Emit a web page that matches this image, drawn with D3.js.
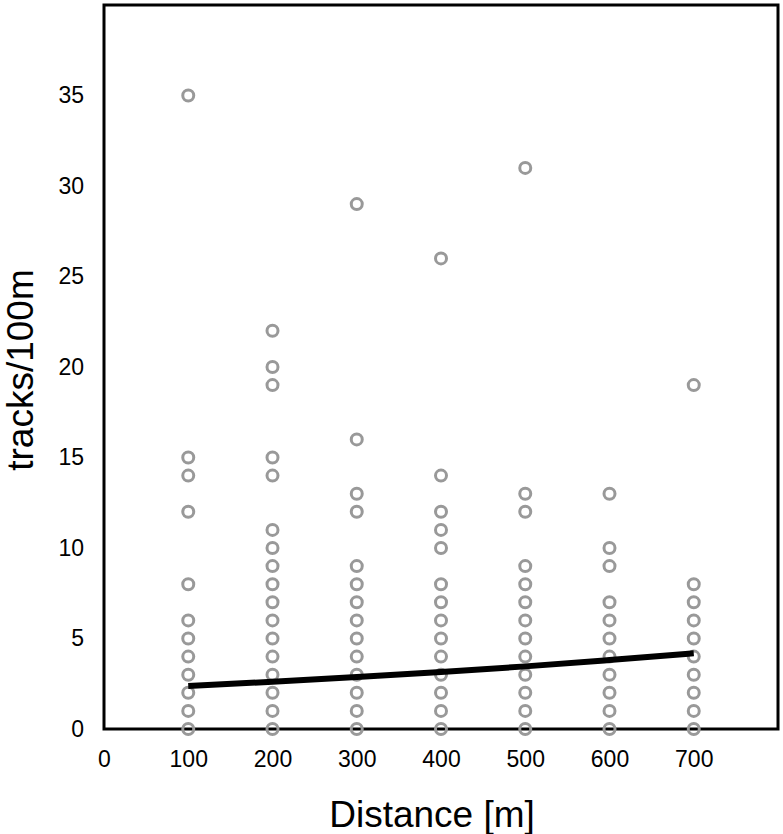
<!DOCTYPE html>
<html>
<head>
<meta charset="utf-8">
<script src="https://cdn.jsdelivr.net/npm/d3@7"></script>
<style>
  html, body { margin: 0; padding: 0; background: #fff; }
  svg { display: block; font-family: "Liberation Sans", Arial, sans-serif; }
</style>
</head>
<body>
<script>
// ---- data ----
const distances = [100, 200, 300, 400, 500, 600, 700];
const tracks100 = [0, 1, 2, 3, 4, 5, 6, 8, 12, 14, 15, 35];
const tracks200 = [0, 1, 2, 3, 4, 5, 6, 7, 8, 9, 10, 11, 14, 15, 19, 20, 22];
const tracks300 = [0, 1, 2, 3, 4, 5, 6, 7, 8, 9, 12, 13, 16, 29];
const tracks400 = [0, 1, 2, 3, 4, 5, 6, 7, 8, 10, 11, 12, 14, 26];
const tracks500 = [0, 1, 2, 3, 4, 5, 6, 7, 8, 9, 12, 13, 31];
const tracks600 = [0, 1, 2, 3, 4, 5, 6, 7, 9, 10, 13];
const tracks700 = [0, 1, 2, 3, 4, 5, 6, 7, 8, 19];
const fitValues = [2.38, 2.61, 2.87, 3.15, 3.46, 3.81, 4.18];
const xTicks = [0, 100, 200, 300, 400, 500, 600, 700];
const yTicks = [0, 5, 10, 15, 20, 25, 30, 35];

const columns = [tracks100, tracks200, tracks300, tracks400, tracks500, tracks600, tracks700];
const points = [];
columns.forEach((vals, i) => vals.forEach(v => points.push({x: distances[i], y: v})));
const fit = distances.map((d, i) => ({x: d, y: fitValues[i]}));

// ---- layout ----
const W = 783, H = 834;
const L = 104, T = 5, R = 778, B = 729;

const x = d3.scaleLinear().domain([0, 800]).range([L, R]);
const y = d3.scaleLinear().domain([0, 40]).range([B, T]);

const svg = d3.select("body").append("svg").attr("width", W).attr("height", H);

// axes (labels only, no tick marks)
const xAxis = svg.append("g").attr("transform", `translate(0,${B})`)
  .call(d3.axisBottom(x).tickValues(xTicks).tickSize(0).tickPadding(22).tickFormat(d3.format("d")));
xAxis.select(".domain").remove();
xAxis.selectAll("text").attr("font-size", 23).attr("fill", "#000")
  .attr("font-family", "'Liberation Sans', Arial, sans-serif");

const yAxis = svg.append("g").attr("transform", `translate(${L},0)`)
  .call(d3.axisLeft(y).tickValues(yTicks).tickSize(0).tickPadding(20).tickFormat(d3.format("d")));
yAxis.select(".domain").remove();
yAxis.selectAll("text").attr("font-size", 23).attr("fill", "#000")
  .attr("font-family", "'Liberation Sans', Arial, sans-serif");

// frame
svg.append("rect").attr("x", L).attr("y", T).attr("width", R - L).attr("height", B - T)
  .attr("fill", "none").attr("stroke", "#000").attr("stroke-width", 3);

// points
svg.append("g").selectAll("circle").data(points).join("circle")
  .attr("cx", d => x(d.x)).attr("cy", d => y(d.y)).attr("r", 5.5)
  .attr("fill", "none").attr("stroke", "#999").attr("stroke-width", 3);

// fitted line
svg.append("path").datum(fit)
  .attr("d", d3.line().x(d => x(d.x)).y(d => y(d.y)).curve(d3.curveMonotoneX))
  .attr("fill", "none").attr("stroke", "#000").attr("stroke-width", 6);

// axis titles
svg.append("text").attr("x", (L + R) / 2 - 9).attr("y", 827)
  .attr("text-anchor", "middle").attr("font-size", 37).attr("fill", "#000")
  .text("Distance [m]");
svg.append("text").attr("transform", `translate(33,${(T + B) / 2 + 3}) rotate(-90)`)
  .attr("text-anchor", "middle").attr("font-size", 37).attr("fill", "#000")
  .text("tracks/100m");
</script>
</body>
</html>
